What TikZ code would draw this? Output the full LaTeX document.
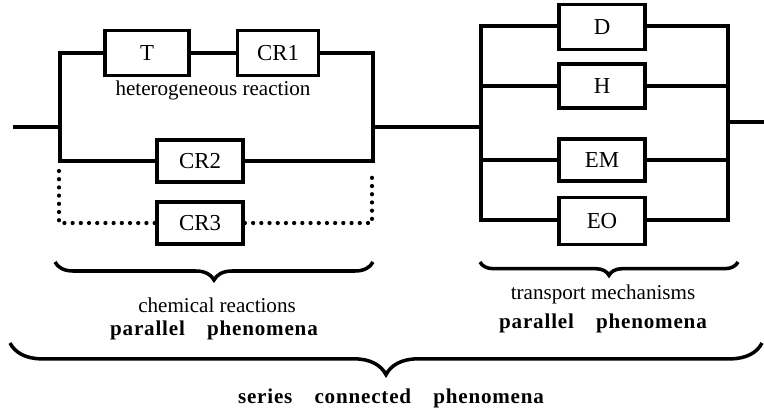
\documentclass[tikz,border=0pt]{standalone}
\usepackage{fontspec}
\setmainfont{Liberation Serif}
\newfontfamily\spacedserif[LetterSpace=3.8]{Liberation Serif}
\usetikzlibrary{positioning, decorations.pathreplacing}

\begin{document}
\begin{tikzpicture}[x=0.03cm,y=-0.03cm,
	elem/.style={draw,line width=3.3pt,minimum width=2.58cm,minimum height=1.31cm,inner sep=0pt,font=\fontsize{19.5}{22}\selectfont},
	wire/.style={line width=3.3pt},
	dotwire/.style={line width=3.6pt,line cap=round,dash pattern=on 0pt off 7pt},
	note/.style={anchor=base,inner sep=0pt,font=\fontsize{18}{21}\selectfont},
	phen/.style={anchor=base,inner sep=0pt,font=\spacedserif\bfseries\fontsize{18}{21}\selectfont},
	curly/.style={decorate,decoration={brace,amplitude=#1},line width=3pt}]
	\useasboundingbox (0,0) rectangle (764,416);
	% chemical reactions
	\node[elem,minimum width=2.52cm,minimum height=1.35cm] (T) at (147,53) {T};
	\node[elem,minimum width=2.43cm,minimum height=1.35cm] (CR1) at (278,53) {CR1};
	\node[elem,minimum height=1.24cm] (CR2) at (200,161) {CR2};
	\node[elem,minimum height=1.28cm] (CR3) at (200,223) {CR3};
	\node[note] (het) at (213,95) {heterogeneous reaction};
	\coordinate (in) at (13,127);
	\coordinate (lt) at (60,53);
	\coordinate (lb) at (60,161);
	\coordinate (rt) at (373,53);
	\coordinate (rb) at (373,161);
	\coordinate (dl) at (59,171);
	\coordinate (dr) at (372,171);
	\draw[wire] (T.west) -- (lt) -- (lb) -- (CR2.west);
	\draw[wire] (T.east) -- (CR1.west);
	\draw[wire] (CR1.east) -- (rt) -- (rb) -- (CR2.east);
	\draw[wire] (in) -- (in -| lt);
	\draw[dotwire] (dl) |- (CR3.west);
	\draw[dotwire] (CR3.east) -| (dr);
	% transport mechanisms
	\node[elem,minimum height=1.35cm] (D) at (602,27) {D};
	\node[elem,minimum height=1.33cm] (H) at (602,86) {H};
	\node[elem,minimum height=1.28cm] (EM) at (602,160) {EM};
	\node[elem,minimum height=1.41cm] (EO) at (602,221) {EO};
	\coordinate (tlt) at (481,26);
	\coordinate (tlb) at (481,220);
	\coordinate (trt) at (728,26);
	\coordinate (trb) at (728,220);
	\coordinate (out) at (764,122);
	\draw[wire] (D.west |- tlt) -- (tlt) -- (tlb) -- (EO.west |- tlb);
	\draw[wire] (D.east |- trt) -- (trt) -- (trb) -- (EO.east |- trb);
	\foreach \m in {H,EM} {
		\draw[wire] (\m.west) -- (\m.west -| tlt);
		\draw[wire] (\m.east) -- (\m.east -| trt);
	}
	\draw[wire] (rt |- in) -- (tlt |- in);
	\draw[wire] (trt |- out) -- (out);
	% braces and texts
	\coordinate (b1a) at (55,262);
	\coordinate (b1b) at (373,262);
	\coordinate (b2a) at (480,262);
	\coordinate (b2b) at (738,262);
	\coordinate (b3a) at (10,343);
	\coordinate (b3b) at (762,343);
	\draw[curly=0.54cm] (b1b) -- (b1a);
	\draw[curly=0.4cm] (b2b) -- (b2a);
	\draw[curly=0.95cm] (b3b) -- (b3a);
	\node[note] (chem) at (217,312) {chemical reactions};
	\node[phen] (par1) at (214,335) {parallel\hspace{1.05em}phenomena};
	\node[note] (trans) at (603,299) {transport mechanisms};
	\node[phen] (par2) at (603,328) {parallel\hspace{1.05em}phenomena};
	\node[phen] (series) at (391,403) {series\hspace{1.05em}connected\hspace{1.05em}phenomena};
\end{tikzpicture}
\end{document}
